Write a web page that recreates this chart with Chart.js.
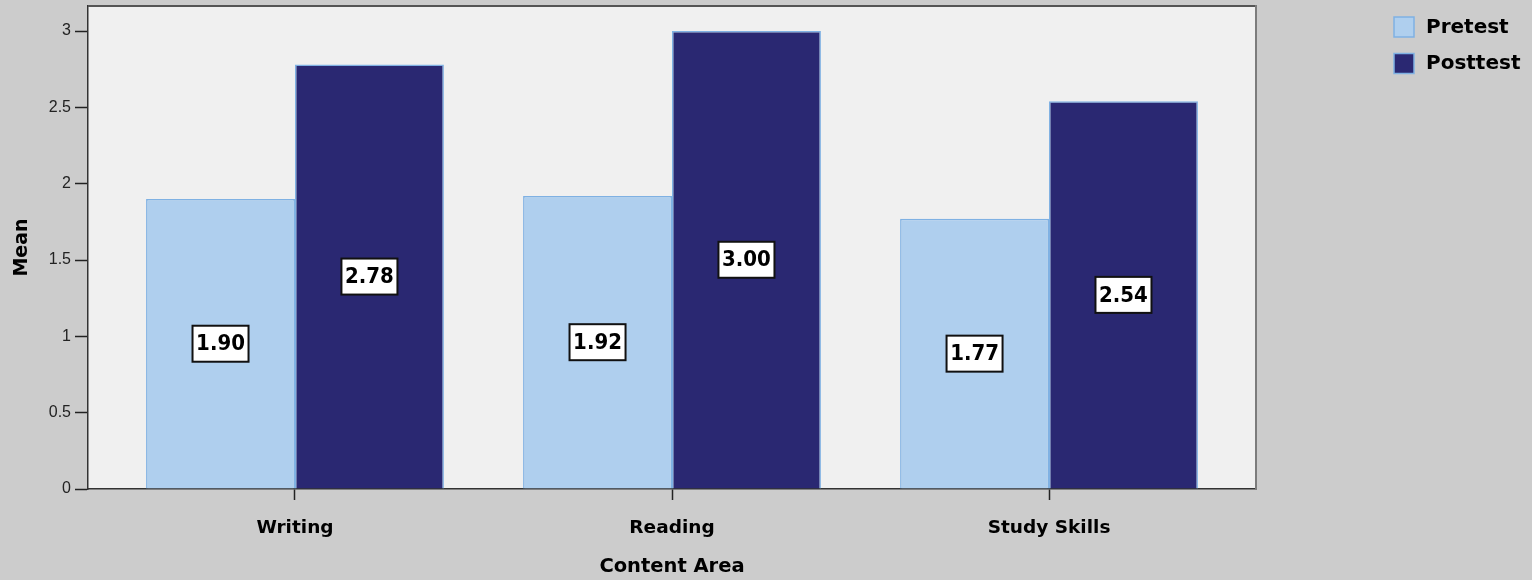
<!DOCTYPE html>
<html>
<head>
<meta charset="utf-8">
<title>Mean by Content Area</title>
<script src="https://cdn.jsdelivr.net/npm/chart.js@4/dist/chart.umd.min.js"></script>
<style>
  html, body { margin: 0; padding: 0; background: #cccccc; }
  #wrap { width: 1532px; height: 580px; }
</style>
</head>
<body>
<div id="wrap"><canvas id="chart" width="1532" height="580"></canvas></div>
<script>
// Data
const categories = ['Writing', 'Reading', 'Study Skills'];
const seriesNames = ['Pretest', 'Posttest'];
const pretestMeans = [1.90, 1.92, 1.77];
const posttestMeans = [2.78, 3.00, 2.54];
const yTickValues = [0, 0.5, 1, 1.5, 2, 2.5, 3];

const PRE_FILL = '#afcfee';
const POST_FILL = '#2a2872';
const BAR_EDGE = '#7fb1e3';

// Category scale with a little extra room before the first and after the last category
class PaddedCategoryScale extends Chart.CategoryScale {
  static id = 'paddedCategory';
  static defaults = Chart.CategoryScale.defaults;
  buildTicks() {
    const ticks = super.buildTicks();
    const pad = this.options.edgePad || 0;
    this._startValue -= pad;
    this._valueRange += 2 * pad;
    return ticks;
  }
}
Chart.register(PaddedCategoryScale);

// Plot background and frame
const framePlugin = {
  id: 'frame',
  beforeDraw(chart) {
    const { ctx, chartArea: a } = chart;
    ctx.save();
    ctx.fillStyle = '#cccccc';
    ctx.fillRect(0, 0, chart.width, chart.height);
    ctx.fillStyle = '#f0f0f0';
    ctx.fillRect(a.left, a.top, a.right - a.left, a.bottom - a.top);
    ctx.restore();
  },
  afterDatasetsDraw(chart) {
    const { ctx, chartArea: a } = chart;
    ctx.save();
    ctx.lineWidth = 2;
    ctx.strokeStyle = '#555555';
    ctx.beginPath();
    ctx.moveTo(a.left, a.top);
    ctx.lineTo(a.right, a.top);
    ctx.stroke();
    ctx.strokeStyle = '#7c7c7c';
    ctx.beginPath();
    ctx.moveTo(a.right, a.top - 1);
    ctx.lineTo(a.right, a.bottom);
    ctx.stroke();
    ctx.restore();
  }
};

// Boxed value labels centred in each bar
const valueBoxPlugin = {
  id: 'valueBoxes',
  afterDatasetsDraw(chart) {
    const { ctx } = chart;
    ctx.save();
    ctx.font = 'bold 22px "DejaVu Sans Condensed", "Liberation Sans"';
    ctx.textAlign = 'center';
    ctx.textBaseline = 'middle';
    chart.data.datasets.forEach((ds, di) => {
      const meta = chart.getDatasetMeta(di);
      meta.data.forEach((bar, i) => {
        const cx = bar.x;
        const cy = (bar.y + bar.base) / 2;
        const w = 56, h = 36;
        ctx.fillStyle = '#ffffff';
        ctx.fillRect(cx - w / 2, cy - h / 2, w, h);
        ctx.lineWidth = 2;
        ctx.strokeStyle = '#111111';
        ctx.strokeRect(cx - w / 2, cy - h / 2, w, h);
        ctx.fillStyle = '#000000';
        ctx.fillText(ds.data[i].toFixed(2), cx, cy + 1);
      });
    });
    ctx.restore();
  }
};

// Legend at the top right
const legendPlugin = {
  id: 'sideLegend',
  afterDraw(chart) {
    const { ctx } = chart;
    ctx.save();
    ctx.font = 'bold 20px "DejaVu Sans"';
    ctx.textAlign = 'left';
    ctx.textBaseline = 'middle';
    chart.data.datasets.forEach((ds, i) => {
      const x = 1394, y = 17 + i * 36.5;
      ctx.fillStyle = ds.backgroundColor;
      ctx.fillRect(x, y, 20, 20);
      ctx.lineWidth = 1.5;
      ctx.strokeStyle = BAR_EDGE;
      ctx.strokeRect(x, y, 20, 20);
      ctx.fillStyle = '#000000';
      ctx.fillText(ds.label, 1426, y + 10.5);
    });
    ctx.restore();
  }
};

new Chart(document.getElementById('chart'), {
  type: 'bar',
  data: {
    labels: categories,
    datasets: [
      { label: seriesNames[0], data: pretestMeans, backgroundColor: PRE_FILL, borderColor: BAR_EDGE, borderWidth: 1.5 },
      { label: seriesNames[1], data: posttestMeans, backgroundColor: POST_FILL, borderColor: BAR_EDGE, borderWidth: 1.5 }
    ]
  },
  options: {
    responsive: false,
    animation: false,
    events: [],
    layout: { padding: { left: 0, right: 276, top: 6, bottom: 0 } },
    datasets: { bar: { categoryPercentage: 0.79, barPercentage: 1.0 } },
    plugins: {
      legend: { display: false },
      tooltip: { enabled: false }
    },
    scales: {
      x: {
        type: 'paddedCategory',
        offset: true,
        edgePad: 0.049,
        grid: { display: true, offset: false, drawOnChartArea: false, drawTicks: true, tickLength: 11, color: '#222222', tickWidth: 1.5 },
        border: { display: true, color: '#333333', width: 1.5 },
        ticks: { color: '#000000', font: { family: 'DejaVu Sans', weight: 'bold', size: 18.5 }, padding: 17, maxRotation: 0 },
        title: { display: true, text: 'Content Area', color: '#000000', font: { family: 'DejaVu Sans', weight: 'bold', size: 19.5 }, padding: { top: 4, bottom: 1 } },
        afterFit(scale) { scale.height = 91; scale.paddingLeft = 0; scale.paddingRight = 0; }
      },
      y: {
        min: 0,
        max: 3.164,
        grid: { display: true, drawOnChartArea: false, drawTicks: true, tickLength: 13, color: '#222222', tickWidth: 1.5 },
        border: { display: true, color: '#333333', width: 1.5 },
        ticks: { stepSize: 0.5, color: '#222222', padding: 4, font: { family: 'Liberation Sans', size: 16 },
                 callback: (v) => String(v) },
        afterBuildTicks(scale) {
          scale.ticks = yTickValues.map(v => ({ value: v }));
        },
        title: { display: true, text: 'Mean', color: '#000000', font: { family: 'DejaVu Sans', weight: 'bold', size: 19 }, padding: { top: 11, bottom: 0 } },
        afterFit(scale) { scale.width = 88; scale.paddingTop = 0; scale.paddingBottom = 0; }
      }
    }
  },
  plugins: [framePlugin, valueBoxPlugin, legendPlugin]
});
</script>
</body>
</html>
